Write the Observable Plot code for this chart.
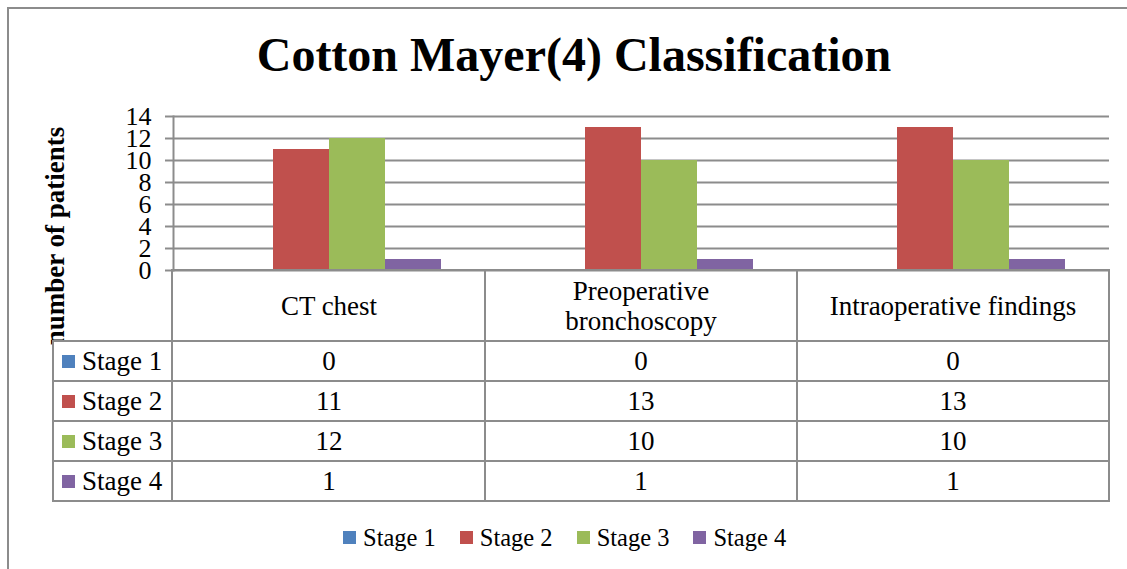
<!DOCTYPE html>
<html>
<head>
<meta charset="utf-8">
<script src="https://cdn.jsdelivr.net/npm/d3@7"></script>
<script src="https://cdn.jsdelivr.net/npm/@observablehq/plot@0.6"></script>
<style>
  html, body { margin: 0; padding: 0; background: #fff; }
  #page { position: relative; width: 1127px; height: 569px; overflow: hidden; background: #fff;
          font-family: "Liberation Serif", "Times New Roman", serif; color: #000; }
  .abs { position: absolute; }
  .hl { position: absolute; height: 2px; background: #8c8c8c; }
  .vl { position: absolute; width: 2px; background: #8c8c8c; }
  .cell { position: absolute; display: flex; align-items: center; justify-content: center;
          text-align: center; font-size: 27px; line-height: 30px; }
  .rowlab { position: absolute; display: flex; align-items: center; font-size: 27px; }
  .sw { display: inline-block; width: 13px; height: 13px; margin-right: 7px; }
  #page .lg-swatches, #page .lg-swatches span, #page .lg-swatch {
    font-family: "Liberation Serif", "Times New Roman", serif !important; font-size: 24.5px !important; color: #000 !important; }
  #page .lg-swatch { margin-right: 24px !important; }
  #page .lg-swatch > svg { margin-right: 7px !important; }
</style>
</head>
<body>
<div id="page"></div>
<script>
// ---- data ----
const title = "Cotton Mayer(4) Classification";
const yLabel = "number of patients";
const categories = ["CT chest", "Preoperative bronchoscopy", "Intraoperative findings"];
const categoryLines = [["CT chest"], ["Preoperative", "bronchoscopy"], ["Intraoperative findings"]];
const stages = ["Stage 1", "Stage 2", "Stage 3", "Stage 4"];
const stage1 = [0, 0, 0];
const stage2 = [11, 13, 13];
const stage3 = [12, 10, 10];
const stage4 = [1, 1, 1];
const stageColors = ["#4F81BD", "#C0504D", "#9BBB59", "#8064A2"];
const yTicks = [0, 2, 4, 6, 8, 10, 12, 14];

const series = [stage1, stage2, stage3, stage4];
const data = [];
stages.forEach((s, i) => categories.forEach((c, j) => data.push({stage: s, category: c, value: series[i][j]})));

const page = document.getElementById("page");
const serif = "'Liberation Serif','Times New Roman',serif";
const lineColor = "#8c8c8c";

// outer border
const ob = document.createElement("div");
ob.className = "abs";
Object.assign(ob.style, {left: "7px", top: "7px", width: "1200px", height: "600px",
  borderTop: "2px solid " + lineColor, borderLeft: "2px solid " + lineColor});
page.appendChild(ob);

// title
const t = document.createElement("div");
t.className = "abs";
t.textContent = title;
Object.assign(t.style, {left: "0px", width: "1148px", top: "31px", textAlign: "center",
  fontSize: "48px", fontWeight: "bold", lineHeight: "48px"});
page.appendChild(t);

// chart
const chart = Plot.plot({
  width: 1127,
  height: 290,
  marginTop: 116,
  marginBottom: 20,
  marginLeft: 172,
  marginRight: 17,
  style: {fontFamily: serif, fontSize: "26px", color: "#000", background: "transparent", overflow: "visible"},
  fx: {domain: categories, padding: 0, axis: null},
  x: {domain: stages, paddingInner: 0, paddingOuter: 0.74, axis: null},
  y: {domain: [0, 14], axis: null},
  color: {domain: stages, range: stageColors},
  marks: [
    Plot.gridY(yTicks, {stroke: lineColor, strokeOpacity: 1, strokeWidth: 2}),
    Plot.barY(data, {fx: "category", x: "stage", y: "value", fill: "stage"}),
    Plot.axisY(yTicks, {tickSize: 8, tickPadding: 14, stroke: lineColor, strokeWidth: 2, strokeOpacity: 1,
      fontSize: 26, fill: "#000", label: null}),
    Plot.frame({anchor: "left", facet: "super", stroke: lineColor, strokeWidth: 2})
  ]
});
chart.style.position = "absolute";
chart.style.left = "0px";
chart.style.top = "0px";
page.appendChild(chart);

// y label
const yl = document.createElement("div");
yl.className = "abs";
yl.textContent = yLabel;
Object.assign(yl.style, {left: "55px", top: "236px", fontSize: "27px", fontWeight: "bold",
  lineHeight: "27px", whiteSpace: "nowrap", transform: "translate(-50%,-50%) rotate(-90deg)"});
page.appendChild(yl);

// data table below the plot, aligned to the fx scale
const fx = chart.scale("fx");
const bw = fx.bandwidth;
const colX = categories.map(c => fx.apply(c));
const leftX = 53, axisX = 172, rightX = colX[2] + bw;
const rowY = [270, 341, 381, 421, 461, 501];

function hl(x0, x1, y) { const d = document.createElement("div"); d.className = "hl";
  Object.assign(d.style, {left: (x0 - 1) + "px", width: (x1 - x0 + 2) + "px", top: (y - 1) + "px"}); page.appendChild(d); }
function vl(x, y0, y1) { const d = document.createElement("div"); d.className = "vl";
  Object.assign(d.style, {left: (x - 1) + "px", top: (y0 - 1) + "px", height: (y1 - y0 + 2) + "px"}); page.appendChild(d); }

// white background under table (covers the overflowing y label)
const bg = document.createElement("div");
bg.className = "abs";
Object.assign(bg.style, {left: leftX + "px", top: rowY[1] + "px", width: (rightX - leftX) + "px",
  height: (rowY[5] - rowY[1]) + "px", background: "#fff"});
page.appendChild(bg);

hl(axisX, rightX, rowY[0]);
for (let i = 1; i < rowY.length; i++) hl(leftX, rightX, rowY[i]);
vl(leftX, rowY[1], rowY[5]);
vl(axisX, rowY[0], rowY[5]);
colX.forEach((x, j) => { if (j > 0) vl(x, rowY[0], rowY[5]); });
vl(rightX, rowY[0], rowY[5]);

// header cells
categories.forEach((c, j) => {
  const d = document.createElement("div");
  d.className = "cell";
  Object.assign(d.style, {left: colX[j] + "px", width: bw + "px", top: rowY[0] + "px", height: (rowY[1] - rowY[0]) + "px"});
  d.innerHTML = categoryLines[j].join("<br>");
  page.appendChild(d);
});

// rows
stages.forEach((s, i) => {
  const y0 = rowY[i + 1], y1 = rowY[i + 2];
  const lab = document.createElement("div");
  lab.className = "rowlab";
  Object.assign(lab.style, {left: "62px", top: y0 + "px", height: (y1 - y0) + "px"});
  const sw = document.createElement("span");
  sw.className = "sw";
  sw.style.background = stageColors[i];
  lab.appendChild(sw);
  lab.appendChild(document.createTextNode(s));
  page.appendChild(lab);
  categories.forEach((c, j) => {
    const d = document.createElement("div");
    d.className = "cell";
    Object.assign(d.style, {left: colX[j] + "px", width: bw + "px", top: y0 + "px", height: (y1 - y0) + "px"});
    d.textContent = String(series[i][j]);
    page.appendChild(d);
  });
});

// legend
const legend = chart.legend("color", {swatchSize: 13, className: "lg",
  style: {fontFamily: serif, fontSize: "24.5px", color: "#000", background: "transparent"}});
legend.style.position = "absolute";
legend.style.left = "343px";
legend.style.top = "521px";
legend.style.margin = "0";
page.appendChild(legend);
</script>
</body>
</html>
